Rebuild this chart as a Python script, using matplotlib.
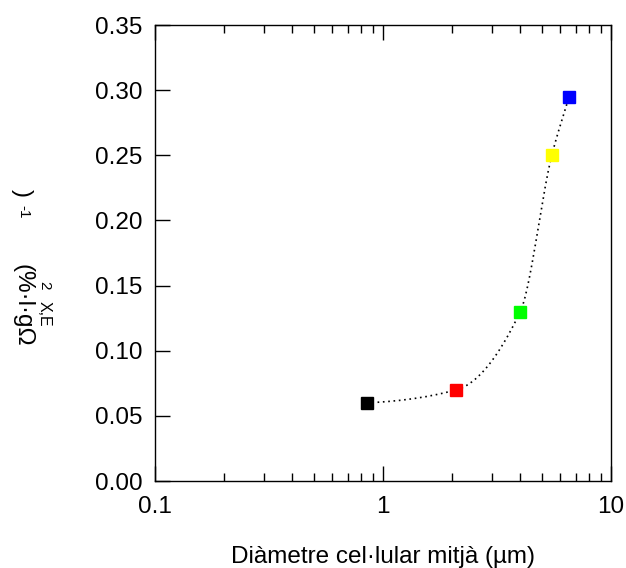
import numpy as np
import matplotlib
matplotlib.use("Agg")
import matplotlib.pyplot as plt

# diameter (um) vs variance, one colour per point
diam = [0.85, 2.1, 4.0, 5.5, 6.55]
sigma = [0.060, 0.070, 0.130, 0.250, 0.295]
colors = ["#000000", "#ff0000", "#00ff00", "#ffff00", "#0000ff"]

yticks = [0.00, 0.05, 0.10, 0.15, 0.20, 0.25, 0.30, 0.35]
xticks = [0.1, 1, 10]
xticklabels = ["0.1", "1", "10"]


def pchip(x, y, xs):
    # monotone cubic through the points (log-x space)
    x = np.asarray(x, float)
    y = np.asarray(y, float)
    h = np.diff(x)
    d = np.diff(y) / h
    m = np.zeros_like(y)
    for k in range(1, len(x) - 1):
        if d[k - 1] * d[k] > 0:
            w1 = 2 * h[k] + h[k - 1]
            w2 = h[k] + 2 * h[k - 1]
            m[k] = (w1 + w2) / (w1 / d[k - 1] + w2 / d[k])
    m[0] = d[0] * 0.3
    m[-1] = d[-1]
    out = np.empty_like(xs)
    for i, v in enumerate(xs):
        k = min(np.searchsorted(x, v, side="right") - 1, len(x) - 2)
        t = (v - x[k]) / h[k]
        h00 = 2 * t**3 - 3 * t**2 + 1
        h10 = t**3 - 2 * t**2 + t
        h01 = -2 * t**3 + 3 * t**2
        h11 = t**3 - t**2
        out[i] = h00 * y[k] + h10 * h[k] * m[k] + h01 * y[k + 1] + h11 * h[k] * m[k + 1]
    return out


plt.rcParams["font.family"] = ["Liberation Sans", "DejaVu Sans"]

fig = plt.figure(figsize=(6.26, 5.68), dpi=100)
ax = fig.add_axes([155 / 626, 1 - 481 / 568, 456 / 626, 456 / 568])

lx = np.log10(diam)
xs = np.linspace(lx[0], lx[-1], 300)
ys = pchip(lx, sigma, xs)
ax.plot(10**xs, ys, color="black", lw=1.2, linestyle=(0, (1, 2.2)), zorder=2)

for xv, yv, c in zip(diam, sigma, colors):
    ax.plot(xv, yv, marker="s", ms=9, color=c, mec=c, linestyle="none", zorder=3)

ax.set_xscale("log")
ax.set_xlim(0.1, 10)
ax.set_ylim(0, 0.35)
ax.set_xticks(xticks)
ax.set_xticklabels(xticklabels)
ax.set_yticks(yticks)
ax.set_yticklabels([f"{v:.2f}" for v in yticks])
ax.tick_params(which="major", direction="in", length=11, width=1,
               top=True, right=False, labelsize=17.5)
ax.tick_params(axis="x", which="major", pad=11)
ax.tick_params(axis="y", which="major", pad=9)
ax.tick_params(which="minor", direction="in", length=6, width=1,
               top=True, right=False)
for s in ax.spines.values():
    s.set_linewidth(1)

ax.set_xlabel("Diàmetre cel·lular mitjà (µm)", fontsize=17.5, labelpad=20)

# broken y label, pieces placed as in the original
fig.text(22 / 626, 1 - 193 / 568, ")", rotation=270, fontsize=17.5, ha="center", va="center")
fig.text(23 / 626, 1 - 212 / 568, "-1", rotation=270, fontsize=11, ha="center", va="center")
fig.text(22 / 626, 1 - 305 / 568, "(%·l·gΩ", rotation=270, fontsize=17.5, ha="center", va="center")
fig.text(44 / 626, 1 - 285 / 568, "2", rotation=270, fontsize=11, ha="center", va="center")
fig.text(44 / 626, 1 - 314 / 568, "X,E", rotation=270, fontsize=11.5, ha="center", va="center")

fig.savefig("out.png", dpi=100)
